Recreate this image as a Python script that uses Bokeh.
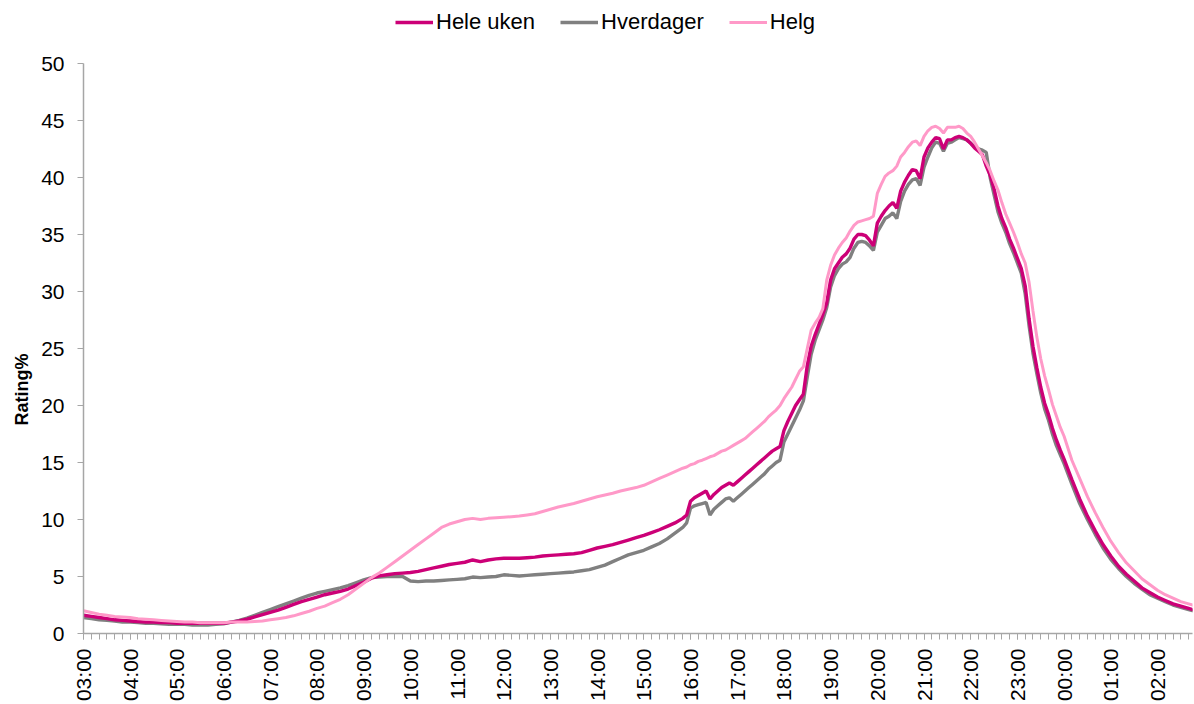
import math
from bokeh.plotting import figure
from bokeh.layouts import column
from bokeh.models import FixedTicker, Range1d, Legend, LegendItem, Title
from bokeh.embed import file_html
from bokeh.resources import INLINE

# ---------------- data ----------------
series_names = ["Hele uken", "Hverdager", "Helg"]

# sample times, minutes after 03:00
times_day = list(range(0, 770, 10))        # 03:00 .. 15:40 (10 min)
times_eve = list(range(770, 1265, 5))      # 15:50 .. 00:00 (5 min)
times_night = list(range(1270, 1440, 10))  # 00:10 .. 02:50 (10 min)

hour_ticks = list(range(0, 1440, 60))
tick_labels = ["03:00", "04:00", "05:00", "06:00", "07:00", "08:00", "09:00", "10:00",
               "11:00", "12:00", "13:00", "14:00", "15:00", "16:00", "17:00", "18:00",
               "19:00", "20:00", "21:00", "22:00", "23:00", "00:00", "01:00", "02:00"]
y_ticks = [0, 5, 10, 15, 20, 25, 30, 35, 40, 45, 50]

hele_day = [1.6, 1.5, 1.4, 1.3, 1.2, 1.15, 1.1, 1.05, 1.0, 1.0, 0.95, 0.95,
            0.9, 0.9, 0.9, 0.9, 0.9, 0.9, 0.9, 1.0, 1.1, 1.25, 1.45, 1.65,
            1.85, 2.05, 2.3, 2.55, 2.8, 3.0, 3.2, 3.4, 3.55, 3.7, 3.9, 4.2,
            4.5, 4.85, 5.05, 5.15, 5.25, 5.3, 5.35, 5.45, 5.6, 5.75, 5.9, 6.05,
            6.15, 6.25, 6.45, 6.3, 6.45, 6.55, 6.6, 6.6, 6.6, 6.65, 6.7, 6.8,
            6.85, 6.9, 6.95, 7.0, 7.1, 7.3, 7.5, 7.65, 7.8, 8.0, 8.2, 8.4,
            8.6, 8.85, 9.1, 9.4, 9.7]
hverd_day = [1.4, 1.3, 1.2, 1.15, 1.1, 1.0, 1.0, 0.95, 0.9, 0.9, 0.85, 0.8,
             0.8, 0.8, 0.75, 0.75, 0.75, 0.8, 0.85, 1.0, 1.15, 1.35, 1.6, 1.85,
             2.1, 2.35, 2.6, 2.85, 3.1, 3.35, 3.55, 3.7, 3.85, 4.0, 4.2, 4.45,
             4.7, 4.9, 4.95, 5.0, 5.0, 5.0, 4.6, 4.55, 4.6, 4.6, 4.65, 4.7,
             4.75, 4.8, 4.95, 4.9, 4.95, 5.0, 5.15, 5.1, 5.05, 5.1, 5.15, 5.2,
             5.25, 5.3, 5.35, 5.4, 5.5, 5.6, 5.8, 6.0, 6.3, 6.6, 6.9, 7.1,
             7.3, 7.6, 7.9, 8.3, 8.8]
helg_day = [2.0, 1.85, 1.7, 1.6, 1.5, 1.45, 1.4, 1.3, 1.25, 1.2, 1.15, 1.1,
            1.05, 1.0, 1.0, 0.95, 0.95, 0.95, 0.95, 1.0, 1.0, 1.0, 1.05, 1.1,
            1.2, 1.3, 1.4, 1.55, 1.75, 1.95, 2.2, 2.4, 2.7, 3.0, 3.4, 3.9,
            4.4, 4.9, 5.3, 5.8, 6.3, 6.8, 7.3, 7.8, 8.3, 8.8, 9.3, 9.6,
            9.8, 10.0, 10.1, 10.0, 10.1, 10.15, 10.2, 10.25, 10.3, 10.4, 10.5, 10.7,
            10.9, 11.1, 11.25, 11.4, 11.6, 11.8, 12.0, 12.15, 12.3, 12.5, 12.65, 12.8,
            13.0, 13.3, 13.6, 13.9, 14.2]

hele_eve = [10.1, 10.4,
            11.6, 11.9, 12.1, 12.3, 12.5, 11.8, 12.2, 12.5, 12.8, 13.0, 13.2, 13.0,
            13.3, 13.6, 13.9, 14.2, 14.5, 14.8, 15.1, 15.4, 15.7, 16.0, 16.2, 16.4,
            17.8, 18.6, 19.3, 20.0, 20.5, 21.0, 23.5, 25.2, 26.2, 27.1, 28.0, 29.0,
            31.0, 32.0, 32.5, 33.0, 33.3, 33.8, 34.6, 35.0, 35.0, 34.9, 34.5, 34.0,
            36.0, 36.6, 37.1, 37.5, 37.8, 37.3, 38.8, 39.6, 40.2, 40.7, 40.6, 39.9,
            41.8, 42.6, 43.1, 43.5, 43.4, 42.5, 43.3, 43.3, 43.5, 43.6, 43.5, 43.3,
            43.0, 42.6, 42.3, 42.0, 41.0, 40.2, 39.0, 37.5, 36.4, 35.6, 34.6, 33.8,
            32.9, 32.0, 30.5, 27.6, 25.2, 23.3, 21.6, 20.2, 19.2, 18.0, 17.0, 16.1,
            15.3]
hverd_eve = [9.3, 9.7,
             11.0, 11.2, 11.3, 11.4, 11.5, 10.4, 10.9, 11.2, 11.5, 11.8, 11.9, 11.6,
             11.9, 12.2, 12.5, 12.8, 13.1, 13.4, 13.7, 14.0, 14.4, 14.7, 15.0, 15.2,
             16.8, 17.5, 18.2, 18.9, 19.6, 20.4, 22.5, 24.5, 25.7, 26.6, 27.5, 28.6,
             30.4, 31.4, 32.0, 32.4, 32.6, 33.0, 33.8, 34.3, 34.4, 34.3, 34.0, 33.6,
             35.2, 35.8, 36.4, 36.6, 36.9, 36.4, 37.9, 38.8, 39.4, 39.8, 39.9, 39.3,
             40.9, 41.8, 42.6, 43.1, 43.0, 42.3, 43.0, 43.1, 43.3, 43.5, 43.4, 43.3,
             43.0, 42.7, 42.5, 42.4, 42.2, 40.0, 38.5, 37.0, 36.0, 35.2, 34.2, 33.4,
             32.5, 31.6, 29.8, 27.0, 24.6, 22.8, 21.1, 19.7, 18.7, 17.5, 16.5, 15.7,
             14.9]
helg_eve = [14.5, 14.6,
            14.8, 14.9, 15.1, 15.2, 15.35, 15.5, 15.6, 15.8, 16.0, 16.1, 16.3, 16.5,
            16.7, 16.9, 17.1, 17.4, 17.7, 18.0, 18.3, 18.6, 19.0, 19.3, 19.6, 20.0,
            20.6, 21.1, 21.6, 22.3, 23.0, 23.4, 25.0, 26.6, 27.2, 27.7, 28.5, 31.0,
            32.3, 33.2, 33.8, 34.3, 34.7, 35.3, 35.8, 36.1, 36.2, 36.3, 36.4, 36.6,
            38.6, 39.4, 40.1, 40.4, 40.6, 41.0, 41.8, 42.2, 42.7, 43.1, 43.2, 42.8,
            43.6, 44.1, 44.4, 44.5, 44.3, 43.9, 44.4, 44.4, 44.4, 44.5, 44.3, 43.9,
            43.6, 43.1, 42.5, 41.9, 41.3, 40.6, 39.7, 38.9, 37.8, 36.8, 36.0, 35.2,
            34.3, 33.3, 32.5, 30.8, 28.3, 26.0, 24.1, 22.6, 21.4, 20.1, 19.1, 18.1,
            17.3]

hele_night = [13.5, 11.8, 10.3, 9.0, 7.8, 6.8, 5.9, 5.2, 4.6, 4.0, 3.6, 3.2,
              2.9, 2.6, 2.4, 2.2, 2.0]
hverd_night = [13.1, 11.4, 10.0, 8.7, 7.5, 6.5, 5.7, 5.0, 4.4, 3.9, 3.4, 3.1,
               2.8, 2.5, 2.3, 2.1, 1.9]
helg_night = [15.2, 13.6, 12.0, 10.6, 9.3, 8.1, 7.1, 6.2, 5.5, 4.8, 4.3, 3.8,
              3.4, 3.1, 2.8, 2.6, 2.4]

# ---------------- assemble ----------------
times = times_day + times_eve + times_night
hele = hele_day + hele_eve + hele_night
hverd = hverd_day + hverd_eve + hverd_night
helg = helg_day + helg_eve + helg_night
series = {"Hele uken": hele, "Hverdager": hverd, "Helg": helg}

FONT = "Liberation Sans"
AXIS_GREY = "#A6A6A6"
COLORS = {"Hele uken": "#CC0077", "Hverdager": "#808080", "Helg": "#FF99C8"}
WIDTHS = {"Hele uken": 3.4, "Hverdager": 3.4, "Helg": 3.0}

LEG_H = 40

# ---------------- legend strip ----------------
leg = figure(width=1194, height=LEG_H, output_backend="svg", toolbar_location=None,
             x_range=Range1d(0, 1), y_range=Range1d(0, 1),
             x_axis_location=None, y_axis_location=None,
             min_border=0)
leg.outline_line_color = None
leg.grid.visible = False
leg_items = []
for name in series_names:
    # the same series, drawn far outside this strip's ranges: only the legend shows
    r = leg.line([t + 10000 for t in times], series[name],
                 line_color=COLORS[name], line_width=WIDTHS[name])
    leg_items.append(LegendItem(label=name, renderers=[r]))
legend = Legend(items=leg_items, orientation="horizontal", location=(312, 5),
                label_text_font=FONT, label_text_font_size="22px",
                label_text_color="black",
                glyph_width=38, glyph_height=26, label_height=26,
                label_standoff=3, spacing=25,
                padding=0, margin=0, border_line_color=None,
                background_fill_alpha=0)
leg.add_layout(legend, "center")

# ---------------- main chart ----------------
p = figure(frame_width=1109, frame_height=570, output_backend="svg",
           toolbar_location=None,
           x_range=Range1d(0, 1425), y_range=Range1d(0, 50),
           min_border_left=83, min_border_right=2, min_border_top=63 - LEG_H,
           min_border_bottom=71)
p.outline_line_color = None
p.grid.visible = False
p.background_fill_color = "white"
p.border_fill_color = "white"

p.line(times, hverd, line_color=COLORS["Hverdager"], line_width=WIDTHS["Hverdager"])
p.line(times, hele, line_color=COLORS["Hele uken"], line_width=WIDTHS["Hele uken"])
p.line(times, helg, line_color=COLORS["Helg"], line_width=WIDTHS["Helg"])

# x axis
xa = p.xaxis[0]
xa.ticker = FixedTicker(ticks=hour_ticks, minor_ticks=list(range(0, 1440, 10)))
xa.major_label_overrides = {t: lab for t, lab in zip(hour_ticks, tick_labels)}
xa.major_label_orientation = math.pi / 2
xa.major_label_text_font = FONT
xa.major_label_text_font_size = "21px"
xa.major_label_text_color = "black"
xa.major_label_standoff = 9
xa.major_tick_out = 6
xa.major_tick_in = 0
xa.minor_tick_out = 6
xa.minor_tick_in = 0
xa.axis_line_color = AXIS_GREY
xa.major_tick_line_color = AXIS_GREY
xa.minor_tick_line_color = AXIS_GREY
xa.axis_line_width = 1.5

# y axis
ya = p.yaxis[0]
ya.ticker = FixedTicker(ticks=y_ticks)
ya.major_label_text_font = FONT
ya.major_label_text_font_size = "21px"
ya.major_label_text_color = "black"
ya.major_label_standoff = 13
ya.major_tick_out = 6
ya.major_tick_in = 0
ya.minor_tick_line_color = None
ya.axis_line_color = AXIS_GREY
ya.major_tick_line_color = AXIS_GREY
ya.axis_line_width = 1.5

# y axis title (side title so it can sit lower than centre, as in the original)
p.add_layout(Title(text="Rating%", align="left", offset=208, standoff=14,
                   text_font=FONT, text_font_size="18px",
                   text_font_style="bold", text_color="black"), "left")

layout = column(leg, p, spacing=0)
open("out.html", "w").write(file_html(layout, INLINE))
